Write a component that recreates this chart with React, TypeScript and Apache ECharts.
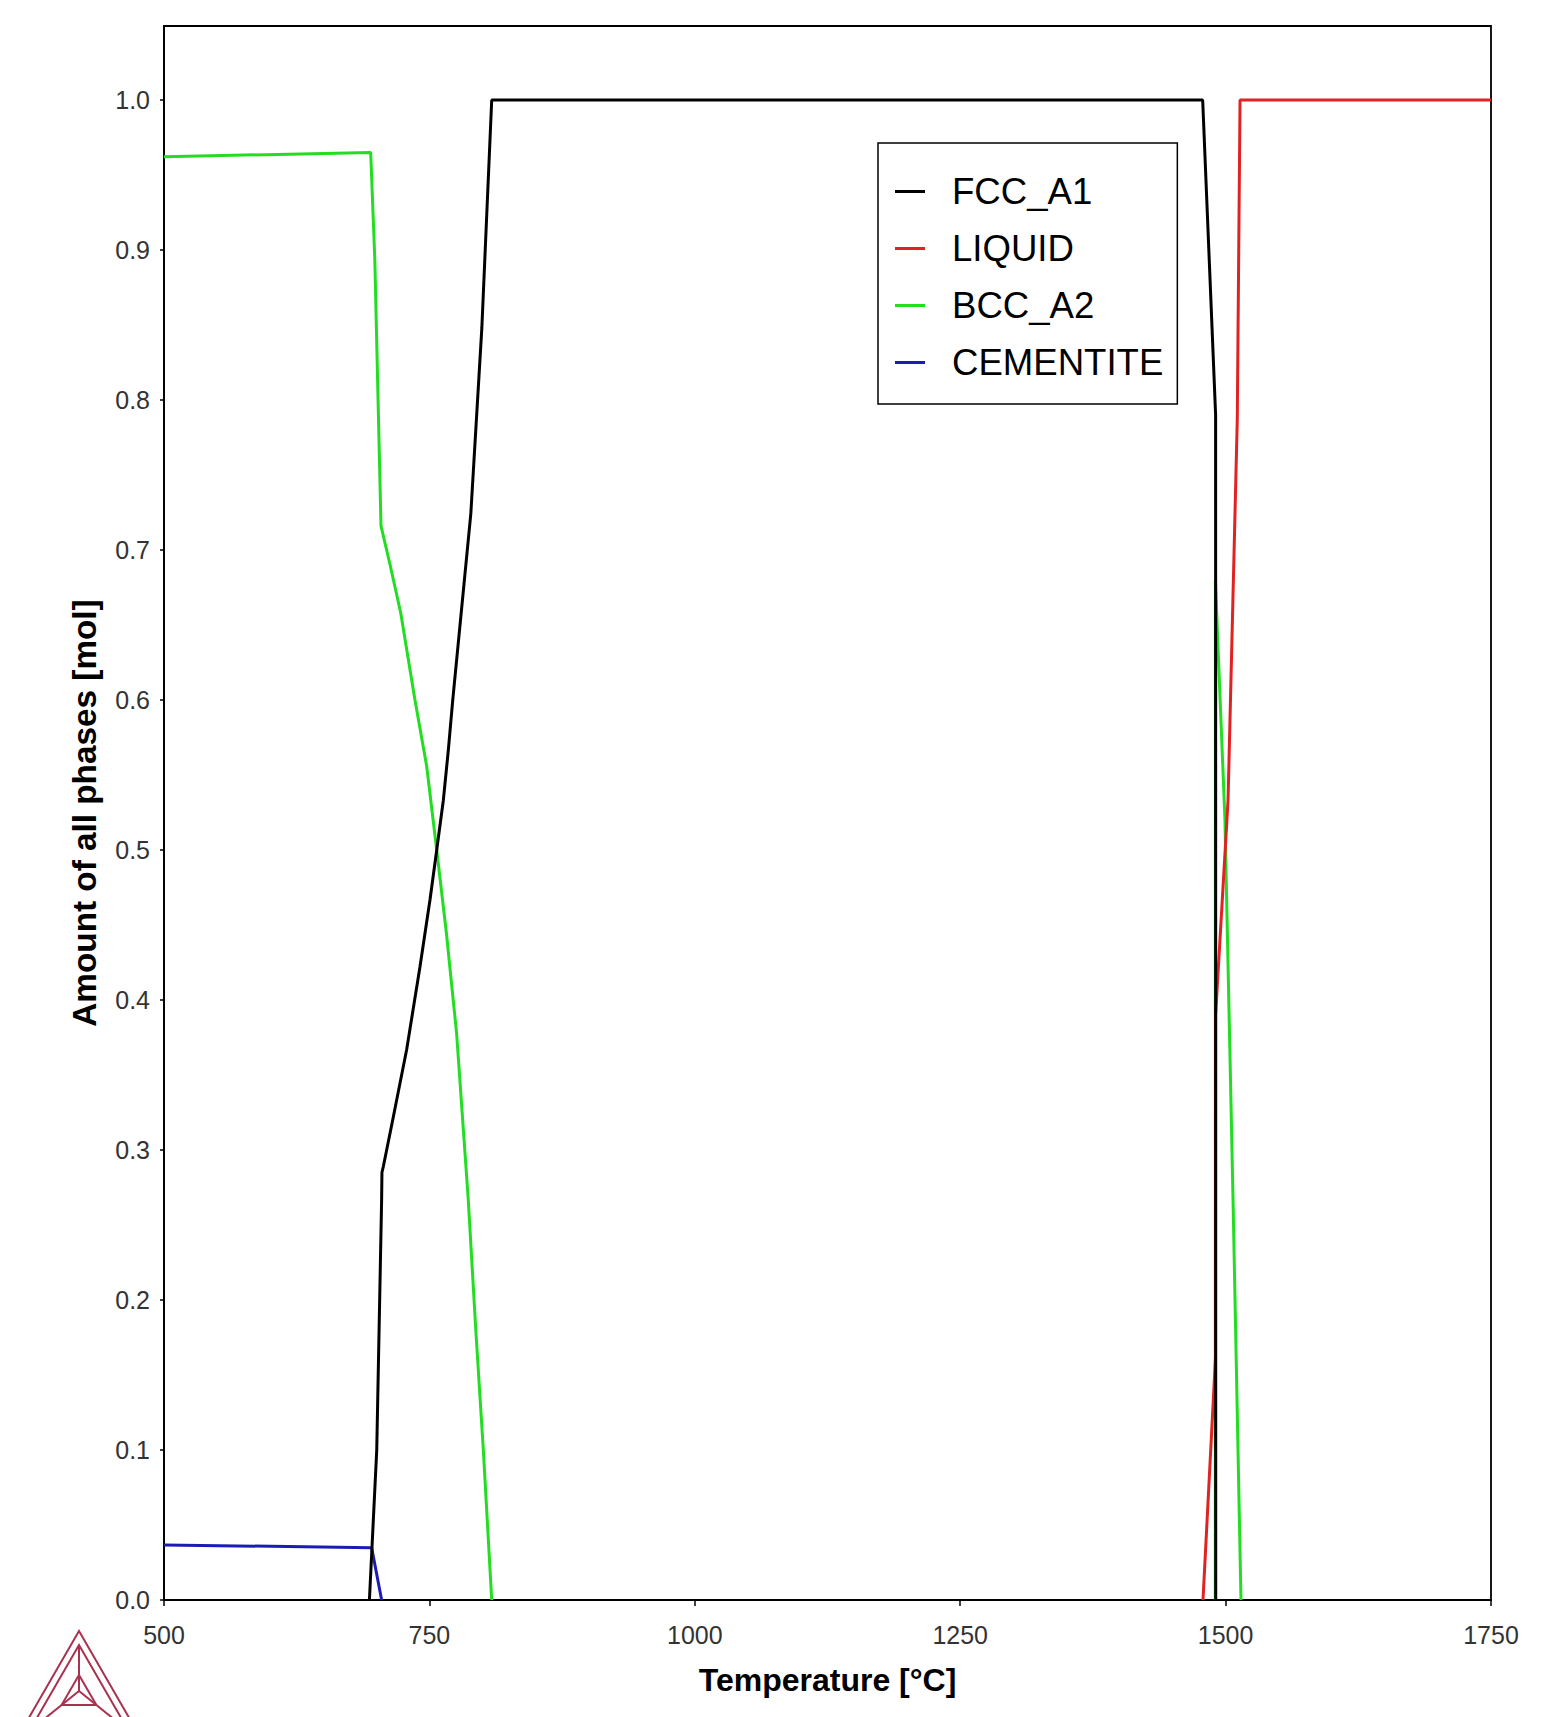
import React, { useEffect, useRef } from "react";
import * as echarts from "echarts";

// ---- data ----
const X_TICKS = [500, 750, 1000, 1250, 1500, 1750];
const Y_TICKS = [0, 0.1, 0.2, 0.3, 0.4, 0.5, 0.6, 0.7, 0.8, 0.9, 1.0];
const LEGEND_NAMES = ["FCC_A1", "LIQUID", "BCC_A2", "CEMENTITE"];

const FCC_T = [693.5, 700.4, 705.0, 705.3, 706.6, 716.0, 728.6, 741.1, 750.6, 756.9, 763.1, 767.9, 772.0, 789.0, 799.4, 808.7, 1478.4, 1490.6, 1490.7];
const FCC_F = [0, 0.1, 0.267, 0.285, 0.289, 0.322, 0.367, 0.422, 0.467, 0.5, 0.533, 0.567, 0.6, 0.724, 0.848, 1.0, 1.0, 0.79, 0];

const LIQ_T = [1478.7, 1490.5, 1490.6, 1502.3, 1511.0, 1513.6, 1750];
const LIQ_F = [0, 0.162, 0.39, 0.533, 0.787, 1.0, 1.0];

const BCC_LOW_T = [500, 694.7, 698.6, 704.4, 713, 723, 736.4, 747.4, 756.9, 766.1, 775.6, 786.6, 793.7, 800.8, 808.7];
const BCC_LOW_F = [0.9622, 0.9649, 0.893, 0.716, 0.69, 0.658, 0.6, 0.556, 0.5, 0.444, 0.378, 0.267, 0.18, 0.1, 0];

const BCC_HIGH_T = [1490.3, 1490.4, 1493.1, 1499.4, 1507.0, 1514.5];
const BCC_HIGH_F = [0, 0.68, 0.631, 0.52, 0.267, 0];

const CEM_T = [500, 695.6, 705.0];
const CEM_F = [0.0367, 0.0349, 0];

const zip = (xs: number[], ys: number[]) => xs.map((x, i) => [x, ys[i]]);

const FONT = "'Liberation Sans', Arial, sans-serif";
const LOGO_COLOR = "#a8324f";

export default function App() {
  const ref = useRef<HTMLDivElement>(null);

  useEffect(() => {
    if (!ref.current) return;
    const chart = echarts.init(ref.current, undefined, { renderer: "svg" });

    const line = (name: string, color: string, data: number[][]) => ({
      name,
      type: "line",
      data,
      showSymbol: false,
      symbol: "none",
      smooth: false,
      lineStyle: { color, width: 3 },
      itemStyle: { color },
      emphasis: { disabled: true },
    });

    // Logo geometry (Thermo-Calc-like tetrahedron mark)
    const ax = 79;
    const ay = 1631;
    const h = 104;
    const hw = h / Math.sqrt(3);
    const outer = [[ax, ay], [ax - hw, ay + h], [ax + hw, ay + h]];
    const ih = 86;
    const ihw = ih / Math.sqrt(3);
    const iay = ay + 14;
    const inner = [[ax, iay], [ax - ihw, iay + ih], [ax + ihw, iay + ih]];
    const c = [ax, 1691];
    const mid = (p: number[], t: number) => [c[0] + (p[0] - c[0]) * t, c[1] + (p[1] - c[1]) * t];
    const small = inner.map((p) => mid(p, 0.35));

    const logoStyle = { fill: "none", stroke: LOGO_COLOR, lineWidth: 2 };

    chart.setOption({
      animation: false,
      backgroundColor: "#ffffff",
      grid: {
        left: 164,
        right: 67,
        top: 26,
        bottom: 117,
        show: true,
        borderColor: "#000",
        borderWidth: 1.8,
        backgroundColor: "transparent",
      },
      legend: {
        orient: "vertical",
        left: 878,
        top: 143,
        padding: [30, 14, 23, 17],
        itemGap: 20,
        itemWidth: 30,
        itemHeight: 3,
        icon: "rect",
        borderColor: "#000",
        borderWidth: 1.5,
        backgroundColor: "#fff",
        selectedMode: false,
        data: LEGEND_NAMES,
        textStyle: {
          fontSize: 36.6,
          color: "#000",
          fontFamily: FONT,
          padding: [0, 0, 0, 22],
        },
      },
      xAxis: {
        type: "value",
        min: 500,
        max: 1750,
        interval: 250,
        name: "Temperature [°C]",
        nameLocation: "middle",
        nameGap: 64,
        nameTextStyle: { fontSize: 32, fontWeight: "bold", color: "#000", fontFamily: FONT },
        axisLine: { show: true, onZero: false, lineStyle: { color: "#000", width: 1.8 } },
        axisTick: { show: true, length: 6, lineStyle: { color: "#000", width: 1.5 } },
        axisLabel: {
          fontSize: 25,
          color: "#333",
          fontFamily: FONT,
          margin: 22,
          customValues: X_TICKS,
          formatter: (v: number) => String(v),
        },
        splitLine: { show: false },
      },
      yAxis: {
        type: "value",
        min: 0,
        max: 1.0493,
        name: "Amount of all phases [mol]",
        nameLocation: "middle",
        nameGap: 63,
        nameTextStyle: { fontSize: 33.3, fontWeight: "bold", color: "#000", fontFamily: FONT },
        axisLine: { show: true, lineStyle: { color: "#000", width: 1.8 } },
        axisTick: { show: true, length: 4, customValues: Y_TICKS, lineStyle: { color: "#000", width: 1.5 } },
        axisLabel: {
          fontSize: 25,
          color: "#333",
          fontFamily: FONT,
          margin: 14,
          customValues: Y_TICKS,
          formatter: (v: number) => v.toFixed(1),
        },
        splitLine: { show: false },
      },
      series: [
        line("BCC_A2", "#22dd22", zip(BCC_LOW_T, BCC_LOW_F)),
        line("BCC_A2", "#22dd22", zip(BCC_HIGH_T, BCC_HIGH_F)),
        line("CEMENTITE", "#1c1cb4", zip(CEM_T, CEM_F)),
        line("LIQUID", "#e02222", zip(LIQ_T, LIQ_F)),
        line("FCC_A1", "#000000", zip(FCC_T, FCC_F)),
      ],
      graphic: [
        { type: "polygon", shape: { points: outer }, style: logoStyle, silent: true },
        { type: "polygon", shape: { points: inner }, style: logoStyle, silent: true },
        { type: "polyline", shape: { points: [inner[0], c] }, style: logoStyle, silent: true },
        { type: "polyline", shape: { points: [inner[1], c] }, style: logoStyle, silent: true },
        { type: "polyline", shape: { points: [inner[2], c] }, style: logoStyle, silent: true },
        { type: "polygon", shape: { points: small }, style: logoStyle, silent: true },
      ],
    });

    return () => chart.dispose();
  }, []);

  return (
    <div
      ref={ref}
      style={{ position: "fixed", left: 0, top: 0, width: 1558, height: 1717, background: "#fff" }}
    />
  );
}
